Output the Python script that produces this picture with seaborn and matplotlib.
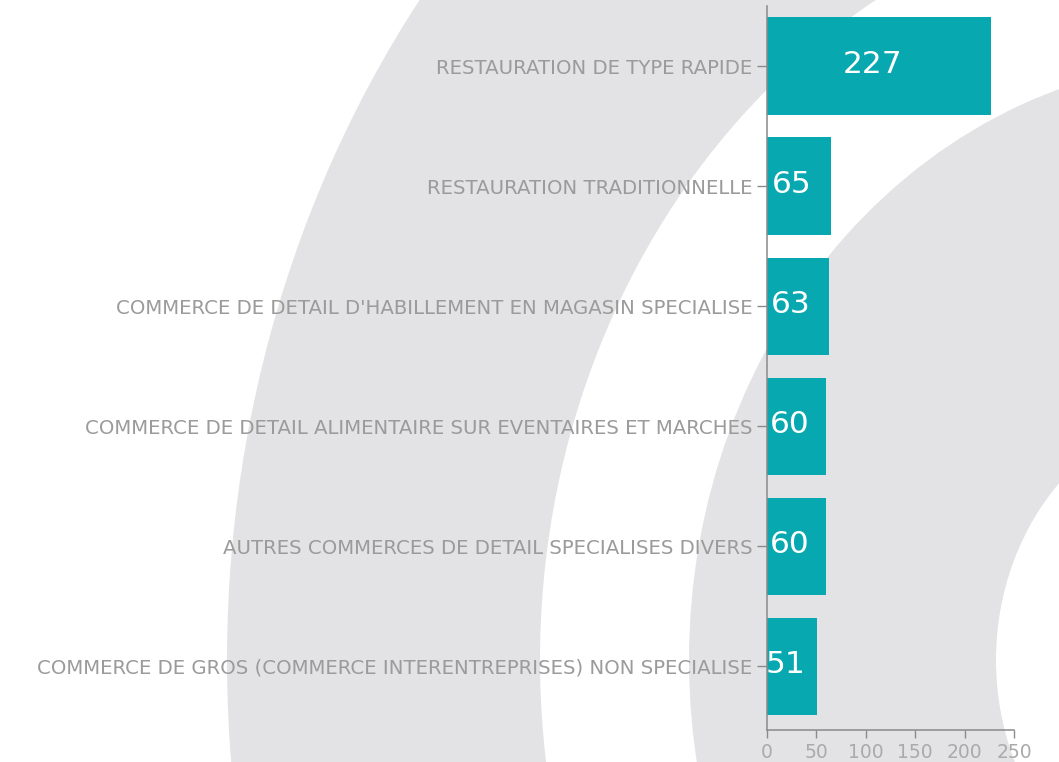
import matplotlib
matplotlib.use('Agg')
import matplotlib.pyplot as plt
from matplotlib.patches import Wedge
import seaborn as sns
import pandas as pd

# Data
categories = [
    'RESTAURATION DE TYPE RAPIDE',
    'RESTAURATION TRADITIONNELLE',
    "COMMERCE DE DETAIL D'HABILLEMENT EN MAGASIN SPECIALISE",
    'COMMERCE DE DETAIL ALIMENTAIRE SUR EVENTAIRES ET MARCHES',
    'AUTRES COMMERCES DE DETAIL SPECIALISES DIVERS',
    'COMMERCE DE GROS (COMMERCE INTERENTREPRISES) NON SPECIALISE',
]
counts = [227, 65, 63, 60, 60, 51]
x_ticks = [0, 50, 100, 150, 200, 250]

bar_color = '#08a8b0'
text_gray = '#9b9b9b'
ring_gray = '#e3e3e5'

df = pd.DataFrame({'activite': categories, 'nombre': counts})

sns.set_style('white')
plt.rcParams['font.family'] = ['DejaVu Sans']

fig = plt.figure(figsize=(10.59, 7.62), dpi=100)
fig.patch.set_facecolor('white')

# Decorative background rings, slightly stretched vertically
stretch = 1.12
bg = fig.add_axes([0, 0, 1, 1], zorder=0)
bg.set_xlim(0, 1059)
bg.set_ylim(762 / stretch, 0)
bg.axis('off')
centre = (1225, 660 / stretch)
bg.add_patch(Wedge(centre, 998, 0, 360, width=998 - 685, color=ring_gray, lw=0))
bg.add_patch(Wedge(centre, 536, 0, 360, width=536 - 229, color=ring_gray, lw=0))

ax = fig.add_axes([767 / 1059, 1 - 730 / 762, 1 - 767 / 1059, 724 / 762], zorder=1)
ax.set_facecolor('none')

sns.barplot(data=df, x='nombre', y='activite', color=bar_color, saturation=1,
            width=0.81, orient='h', linewidth=0, ax=ax)

for i, v in enumerate(counts):
    ax.annotate(str(v), (v / 2, i), xytext=(-5, 1), textcoords='offset points',
                ha='center', va='center', color='white', fontsize=22.5)

ax.set_xlim(0, 295.5)
ax.set_ylim(5.53, -0.5)
ax.set_xticks(x_ticks)
ax.set_xlabel('')
ax.set_ylabel('')

for side in ['top', 'right']:
    ax.spines[side].set_visible(False)
for side in ['left', 'bottom']:
    ax.spines[side].set_color('#8a8a8a')
    ax.spines[side].set_linewidth(1.1)
ax.spines['bottom'].set_bounds(0, 250)

ax.tick_params(axis='y', length=7, width=1, color='#8a8a8a', pad=3.5,
               labelsize=14.2, labelcolor=text_gray, left=True)
ax.tick_params(axis='x', length=6, width=1, color='#8a8a8a', pad=3,
               labelsize=13.5, labelcolor='#aaaaaa', bottom=True)

plt.savefig('out.png', dpi=100)
plt.close()
